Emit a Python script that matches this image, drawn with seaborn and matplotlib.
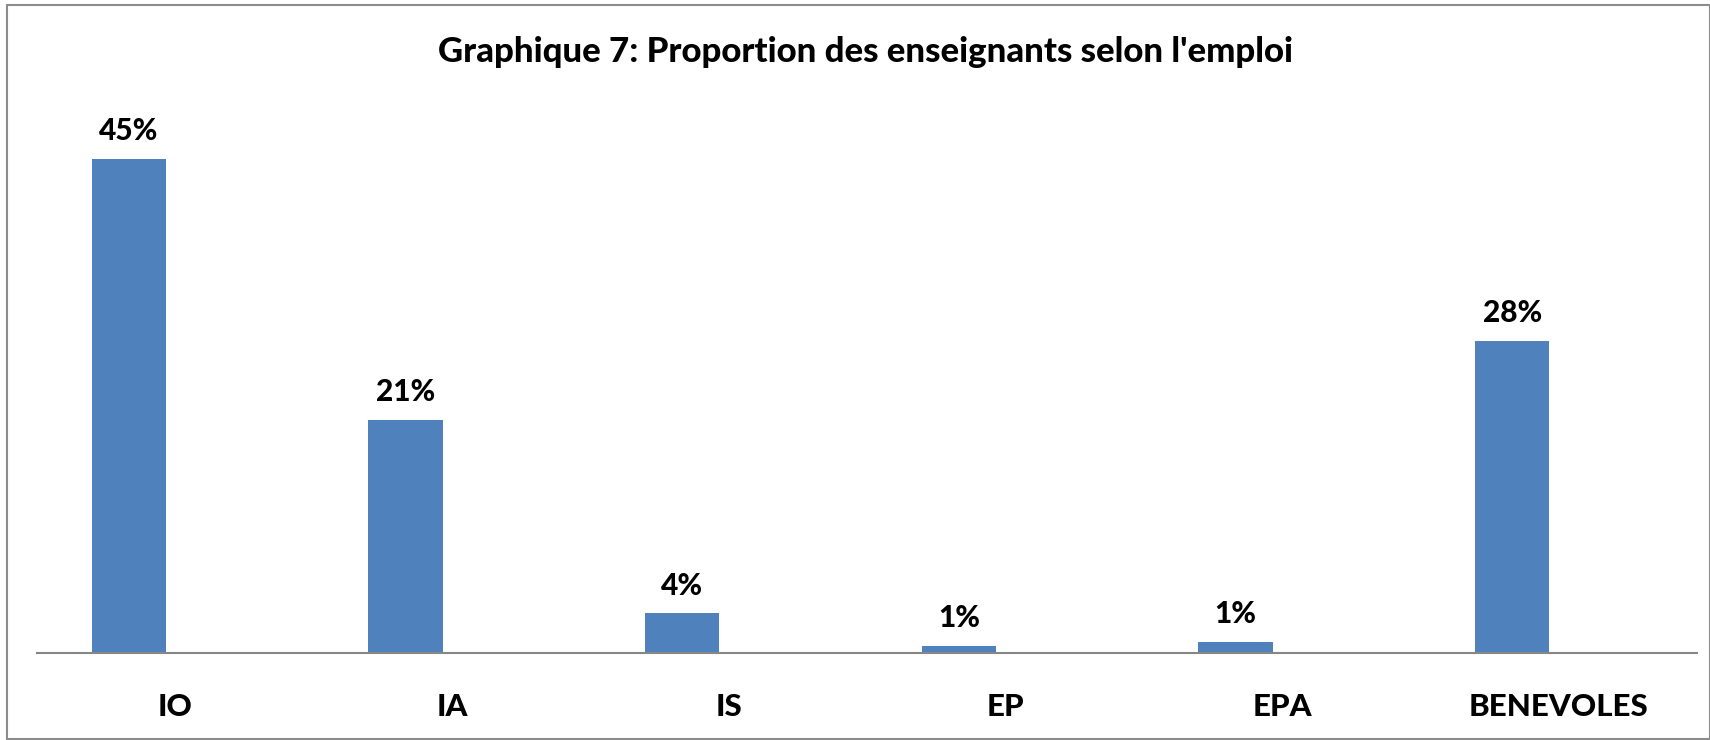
import numpy as np
import pandas as pd
import matplotlib
matplotlib.use('Agg')
import matplotlib.pyplot as plt
import seaborn as sns
from matplotlib.patches import Rectangle

# données (en %)
emplois = ['IO', 'IA', 'IS', 'EP', 'EPA', 'BENEVOLES']
proportions = [45.0, 21.2, 3.6, 0.6, 1.0, 28.4]
titre = "Graphique 7: Proportion des enseignants selon l'emploi"

df = pd.DataFrame({'emploi': emplois, 'proportion': proportions, 'serie': 'Proportion'})

sns.set_style('white')
plt.rcParams['font.family'] = ['Lato', 'DejaVu Sans']
plt.rcParams['text.color'] = 'black'
plt.rcParams['xtick.color'] = 'black'

fig = plt.figure(figsize=(17.1, 7.4), dpi=100)
ax = fig.add_axes([0.0216, 0.1176, 0.9708, 0.7419])

# deuxième série vide comme dans Excel -> les barres sont décalées à gauche
sns.barplot(data=df, x='emploi', y='proportion', hue='serie',
            hue_order=['Proportion', 'vide'], order=emplois,
            palette={'Proportion': '#4F81BD', 'vide': '#C0504D'},
            width=0.672, gap=0.2, dodge=True, linewidth=0, saturation=1,
            legend=False, ax=ax)

for c in ax.containers:
    ax.bar_label(c, fmt='{:.0f}%', padding=10, fontsize=21.5, fontweight='black', color='black')

ax.set_ylim(0, 50)
ax.set_xlim(-0.5, len(emplois) - 0.5)
ax.set_xlabel('')
ax.set_ylabel('')
ax.set_yticks([])
ax.tick_params(axis='x', length=0, pad=29, labelsize=22.5, labelcolor='black')
for lab in ax.get_xticklabels():
    lab.set_fontweight('black')
for s in ['top', 'right', 'left']:
    ax.spines[s].set_visible(False)
ax.spines['bottom'].set_color('#868686')
ax.spines['bottom'].set_linewidth(1.5)

fig.text(0.506, 0.93, titre, ha='center', va='center', fontsize=25, fontweight='black', color='black')

# cadre autour du graphique
fig.patches.append(Rectangle((0.004, 0.001), 0.996, 0.992, transform=fig.transFigure,
                             fill=False, edgecolor='#8c8c8c', linewidth=1.5))

fig.savefig('out.png', dpi=100)
